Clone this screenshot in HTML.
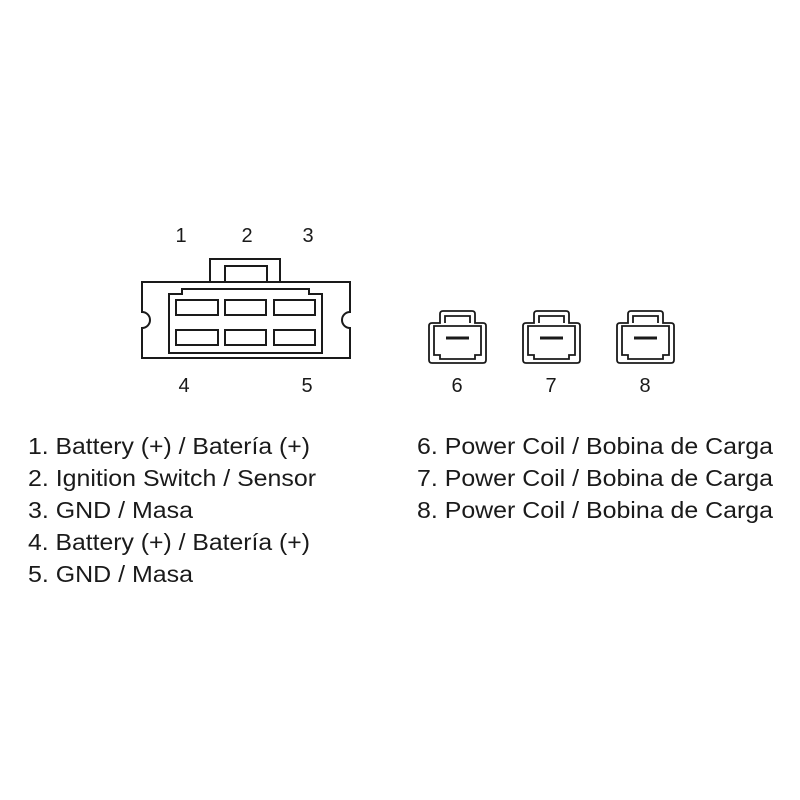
<!DOCTYPE html>
<html><head><meta charset="utf-8"><style>html,body{margin:0;padding:0;background:#fff;}svg{display:block}</style></head>
<body>
<svg width="800" height="800" viewBox="0 0 800 800" xmlns="http://www.w3.org/2000/svg">
<rect width="800" height="800" fill="#fff"/>
<g fill="none" stroke="#1a1a1a" stroke-width="2">
<!-- main connector -->
<path d="M142,282 H350 V312 A8,8 0 0 0 350,328 V358 H142 V328 A8,8 0 0 0 142,312 Z"/>
<rect x="210" y="259" width="70" height="23" fill="#fff"/>
<rect x="225" y="266" width="42" height="16"/>
<path d="M169,294 H182 V289 H309 V294 H322 V353 H169 Z"/>
<rect x="176" y="300" width="42" height="15"/>
<rect x="225" y="300" width="41" height="15"/>
<rect x="274" y="300" width="41" height="15"/>
<rect x="176" y="330" width="42" height="15"/>
<rect x="225" y="330" width="41" height="15"/>
<rect x="274" y="330" width="41" height="15"/>
</g>
<defs>
<g id="sc" fill="none" stroke="#1a1a1a" stroke-width="1.8">
<path d="M3,12 H11 V3 Q11,0 14,0 H43 Q46,0 46,3 V12 H54 Q57,12 57,15 V49 Q57,52 54,52 H3 Q0,52 0,49 V15 Q0,12 3,12 Z"/>
<path d="M16,12 V5 H41 V12"/>
<path d="M5,15 H52 V44 H46 V48 H11 V44 H5 Z"/>
<rect x="17" y="25.5" width="23" height="3" fill="#1a1a1a" stroke="none"/>
</g>
</defs>
<use href="#sc" x="429" y="311"/>
<use href="#sc" x="523" y="311"/>
<use href="#sc" x="617" y="311"/>
<g font-family="Liberation Sans, Arial, sans-serif" font-size="20" fill="#1a1a1a" text-anchor="middle">
<text x="181" y="242">1</text><text x="247" y="242">2</text><text x="308" y="242">3</text>
<text x="184" y="392">4</text><text x="307" y="392">5</text>
<text x="457" y="392">6</text><text x="551" y="392">7</text><text x="645" y="392">8</text>
</g>
<g font-family="Liberation Sans, Arial, sans-serif" font-size="23" fill="#1a1a1a">
<text x="28" y="454" textLength="282" lengthAdjust="spacingAndGlyphs">1. Battery (+) / Batería (+)</text>
<text x="28" y="486" textLength="288" lengthAdjust="spacingAndGlyphs">2. Ignition Switch / Sensor</text>
<text x="28" y="518" textLength="165" lengthAdjust="spacingAndGlyphs">3. GND / Masa</text>
<text x="28" y="550" textLength="282" lengthAdjust="spacingAndGlyphs">4. Battery (+) / Batería (+)</text>
<text x="28" y="582" textLength="165" lengthAdjust="spacingAndGlyphs">5. GND / Masa</text>
<text x="417" y="454" textLength="356" lengthAdjust="spacingAndGlyphs">6. Power Coil / Bobina de Carga</text>
<text x="417" y="486" textLength="356" lengthAdjust="spacingAndGlyphs">7. Power Coil / Bobina de Carga</text>
<text x="417" y="518" textLength="356" lengthAdjust="spacingAndGlyphs">8. Power Coil / Bobina de Carga</text>
</g>
</svg>
</body></html>
